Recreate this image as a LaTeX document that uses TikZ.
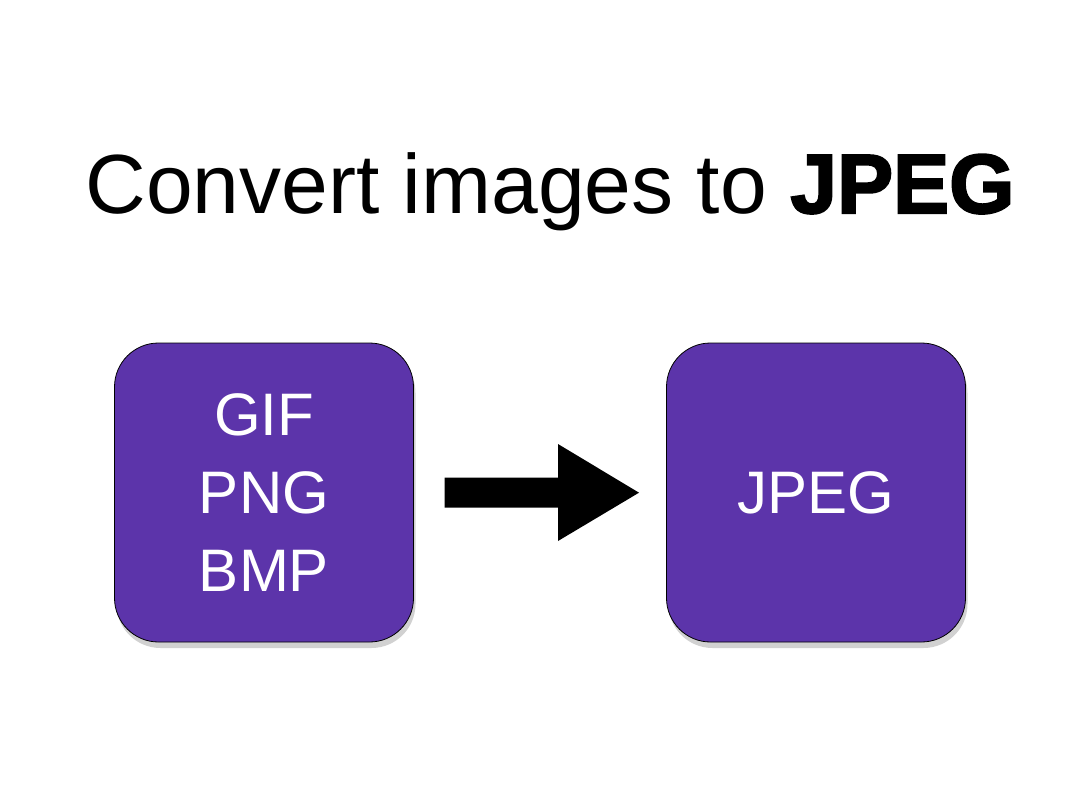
\documentclass[tikz,border=0pt]{standalone}
\usepackage{fontspec}
\setmainfont{Liberation Sans}
\newfontfamily\heavyfont[FakeBold=2.5]{Liberation Sans Bold}
\usetikzlibrary{shadows}
\definecolor{boxpurple}{RGB}{92,52,170}
\tikzset{
  fmtbox/.style={draw=black, line width=0.8pt, fill=boxpurple, rounded corners=44pt,
    minimum width=299pt, minimum height=299pt, inner sep=0pt, text=white,
    align=center, font=\fontsize{60}{78}\selectfont,
    drop shadow={shadow xshift=2pt, shadow yshift=-6pt, opacity=0.3, fill=black!60}},
  bigarrow/.style={fill=black, draw=none}
}
\begin{document}
\begin{tikzpicture}[x=1pt,y=-1pt]
\useasboundingbox (0,0) rectangle (1080,800);
\node[anchor=base, inner sep=0pt, font=\fontsize{84}{94}\selectfont] (title) at (550,213)
  {Convert images to {\heavyfont JPEG}};
\node[fmtbox] (src) at (264,492.5) {GIF\\PNG\\BMP};
\node[fmtbox] (dst) at (816,492.5) {JPEG};
\coordinate (tail) at (444.5,492.7);
\coordinate (tip) at (639,492.7);
\fill[bigarrow] (tail) ++(0,-15) -- ++(113.5,0) -- ++(0,-33.7) -- (tip) -- (558,541) -- (558,507.7) -- (444.5,507.7) -- cycle;
\end{tikzpicture}
\end{document}
